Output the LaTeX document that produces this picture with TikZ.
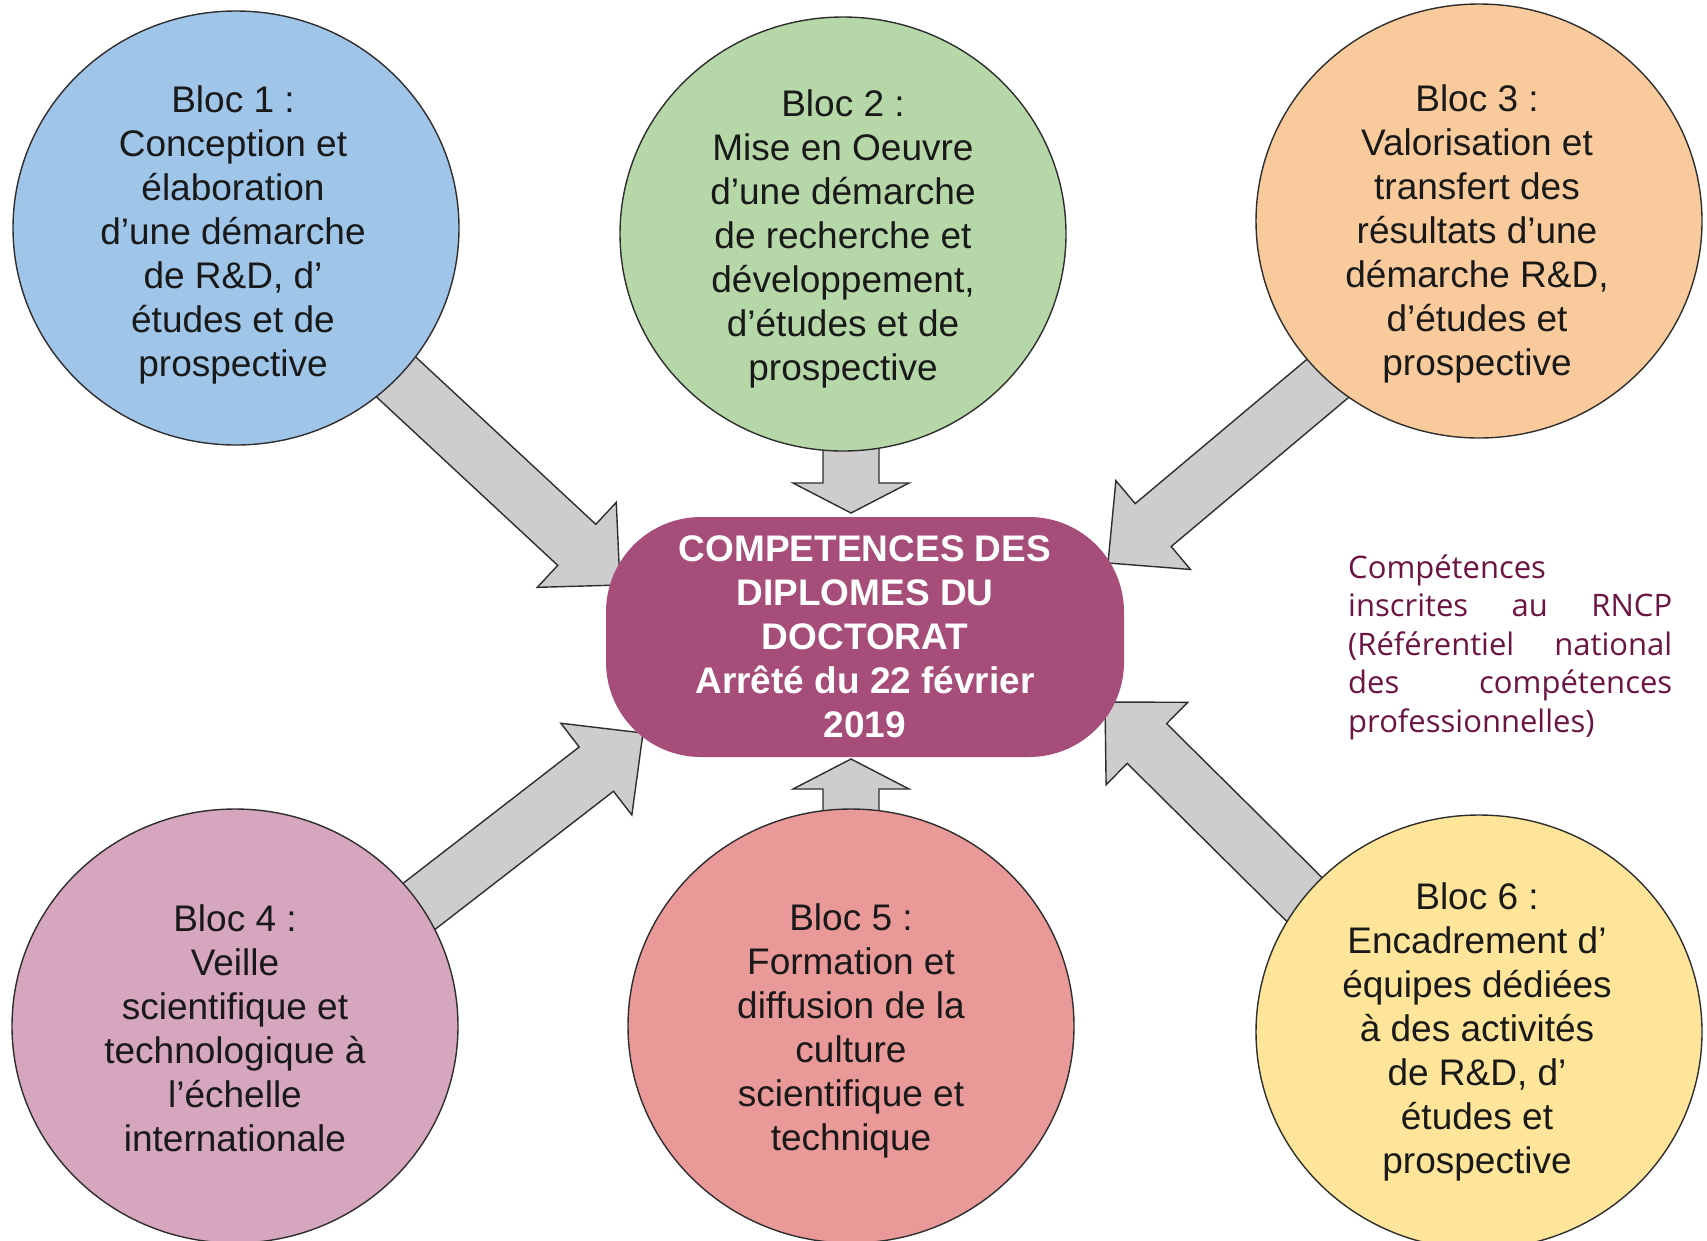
\documentclass[tikz,border=0pt]{standalone}
\usepackage{fontspec}
\setmainfont{Liberation Sans}
\newfontfamily\osans{Open Sans}
\usetikzlibrary{calc,shapes.geometric}
\definecolor{cblue}{HTML}{9FC5E8}
\definecolor{cgreen}{HTML}{B6D7A8}
\definecolor{corange}{HTML}{F9CB9C}
\definecolor{cpink}{HTML}{D5A6BD}
\definecolor{cred}{HTML}{EA9999}
\definecolor{cyellow}{HTML}{FFE599}
\definecolor{cmag}{HTML}{A64D79}
\definecolor{rnc}{RGB}{108,20,66}
\definecolor{agray}{HTML}{CDCDCD}
\definecolor{edge}{HTML}{2E2E2E}
\tikzset{
  bloc/.style={ellipse, draw=edge, line width=1.4pt, minimum width=446pt, minimum height=434pt, inner sep=0pt},
  bloctext/.style={align=center, font=\fontsize{37}{44}\selectfont, text=black!90, inner sep=0pt},
  blockarr/.style={fill=agray, draw=edge, line width=1.4pt, line join=miter},
  centre/.style={fill=cmag, rounded corners=95pt, minimum width=518pt, minimum height=240pt, inner sep=0pt,
    align=center, text=white, font=\bfseries\fontsize{37}{44}\selectfont}
}
\newcommand\blockarrow[3]{%
  \coordinate (hb) at ($(#2)!#3!(#1)$);
  \draw[blockarr] ($(#1)!28pt!90:(#2)$) -- ($(hb)!28pt!90:(#2)$) -- ($(hb)!58pt!90:(#2)$) -- (#2)
    -- ($(hb)!58pt!-90:(#2)$) -- ($(hb)!28pt!-90:(#2)$) -- ($(#1)!28pt!-90:(#2)$) -- cycle;}
\begin{document}
\begin{tikzpicture}[x=1pt,y=-1pt]
\useasboundingbox[fill=white] (0,0) rectangle (1707,1240);

% arrows (drawn first, circles cover their tails)
\coordinate (s1) at (380,362);  \coordinate (t1) at (620,585);
\coordinate (s2) at (851,440);  \coordinate (t2) at (851,513);
\coordinate (s3) at (1333,374); \coordinate (t3) at (1108,563);
\coordinate (s4) at (404,918);  \coordinate (t4) at (643,733);
\coordinate (s5) at (851,835);  \coordinate (t5) at (851,759);
\coordinate (s6) at (1315,910); \coordinate (t6) at (1105,702);
\blockarrow{s1}{t1}{59pt}
\blockarrow{s2}{t2}{30pt}
\blockarrow{s3}{t3}{59pt}
\blockarrow{s4}{t4}{59pt}
\blockarrow{s5}{t5}{30pt}
\blockarrow{s6}{t6}{59pt}

% circles
\node[bloc, fill=cblue]   (b1) at (236,228) {};
\node[bloc, fill=cgreen]  (b2) at (843,234) {};
\node[bloc, fill=corange] (b3) at (1479,221) {};
\node[bloc, fill=cpink]   (b4) at (235,1026) {};
\node[bloc, fill=cred]    (b5) at (851,1026) {};
\node[bloc, fill=cyellow] (b6) at (1479,1032) {};

\node[bloctext] (l1) at (233,235) {Bloc 1 :\\Conception et\\élaboration\\d’une démarche\\de R\&D, d’\\études et de\\prospective};
\node[bloctext] (l2) at (843,239) {Bloc 2 :\\Mise en Oeuvre\\d’une démarche\\de recherche et\\développement,\\d’études et de\\prospective};
\node[bloctext] (l3) at (1477,234) {Bloc 3 :\\Valorisation et\\transfert des\\résultats d’une\\démarche R\&D,\\d’études et\\prospective};
\node[bloctext] (l4) at (235,1028) {Bloc 4 :\\Veille\\scientifique et\\technologique à\\l’échelle\\internationale};
\node[bloctext] (l5) at (851,1031) {Bloc 5 :\\Formation et\\diffusion de la\\culture\\scientifique et\\technique};
\node[bloctext] (l6) at (1477,1032) {Bloc 6 :\\Encadrement d’\\équipes dédiées\\à des activités\\de R\&D, d’\\études et\\prospective};

% centre
\node[centre] (c) at (865,637) {COMPETENCES DES\\DIPLOMES DU\\DOCTORAT\\Arrêté du 22 février\\2019};

% side text
\node[anchor=west, inner sep=0pt, align=left, text=rnc, font=\osans\fontsize{31}{38.5}\selectfont] (rncp) at (1348,647)
  {Compétences\\\makebox[324pt][s]{inscrites au RNCP}\\\makebox[324pt][s]{(Référentiel national}\\\makebox[324pt][s]{des compétences}\\professionnelles)};
\end{tikzpicture}
\end{document}
